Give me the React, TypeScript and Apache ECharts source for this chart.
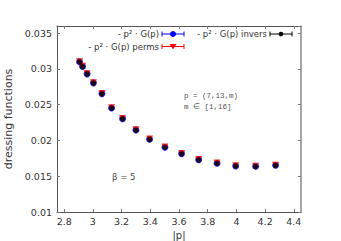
import React, { useEffect, useRef } from "react";
import * as echarts from "echarts";

const pAbs = [2.907, 2.928, 2.96, 3.004, 3.063, 3.13, 3.207, 3.3, 3.395, 3.502, 3.618, 3.737, 3.865, 3.995, 4.134, 4.273];
const gBlue = [0.03099, 0.03033, 0.02931, 0.02805, 0.02655, 0.02455, 0.02305, 0.02147, 0.02017, 0.01905, 0.01816, 0.01732, 0.01681, 0.01644, 0.01639, 0.01653];
const gPerms = [0.03102, 0.03036, 0.02933, 0.02808, 0.02657, 0.02459, 0.02306, 0.02151, 0.02019, 0.01907, 0.01818, 0.01734, 0.01684, 0.01646, 0.0164, 0.01655];
const gInvers = [0.03097, 0.03031, 0.02929, 0.02803, 0.02652, 0.02452, 0.02302, 0.02144, 0.02014, 0.01902, 0.01811, 0.0173, 0.01679, 0.01642, 0.01637, 0.01651];
const xTicks = [2.8, 3, 3.2, 3.4, 3.6, 3.8, 4, 4.2, 4.4];
const legendNames = ["- p² · G(p)", "- p² · G(p) perms", "- p² · G(p) invers"];
const seriesColors = ["#0000ff", "#ff0000", "#000000"];

export default function App() {
  const ref = useRef<HTMLDivElement>(null);
  useEffect(() => {
    const chart = echarts.init(ref.current!, undefined, { renderer: "svg" });
    const pts = (ys: number[]) => pAbs.map((x, i) => [x, ys[i]]);
    const axisCol = "#555";
    const legendItem = (label: string, tx: number, ty: number, color: string, marker: any) => [
      { type: "text", x: tx, y: ty, style: { text: label, align: "right", verticalAlign: "middle", fill: "#333", font: "8.5px 'DejaVu Sans'" } },
      { type: "line", shape: { x1: tx + 3, y1: ty, x2: tx + 25, y2: ty }, style: { stroke: color, lineWidth: 1 } },
      { type: "line", shape: { x1: tx + 3, y1: ty - 2.5, x2: tx + 3, y2: ty + 2.5 }, style: { stroke: color, lineWidth: 1 } },
      { type: "line", shape: { x1: tx + 25, y1: ty - 2.5, x2: tx + 25, y2: ty + 2.5 }, style: { stroke: color, lineWidth: 1 } },
      marker(tx + 14, ty, color),
    ];
    const circ = (r: number) => (x: number, y: number, c: string) => ({ type: "circle", shape: { cx: x, cy: y, r }, style: { fill: c } });
    const tri = (x: number, y: number, c: string) => ({ type: "polygon", shape: { points: [[x - 3.5, y - 2.5], [x + 3.5, y - 2.5], [x, y + 3]] }, style: { fill: c } });
    chart.setOption({
      animation: false,
      grid: { left: 57, right: 40, top: 26, bottom: 29, outerBoundsMode: "none", containLabel: false },
      xAxis: [
        {
          type: "value", min: 2.75, max: 4.45,
          name: "|p|", nameLocation: "middle", nameGap: 17,
          nameTextStyle: { fontFamily: "DejaVu Sans", fontSize: 10, color: "#333" },
          axisLine: { show: true, lineStyle: { color: axisCol } },
          axisTick: { show: true, inside: true, length: 3, customValues: xTicks, lineStyle: { color: "#777" } },
          axisLabel: { customValues: xTicks, fontFamily: "DejaVu Sans", fontSize: 9.5, color: "#333", margin: 4 },
          splitLine: { show: false },
        },
        {
          type: "value", min: 2.75, max: 4.45, position: "top",
          axisLine: { show: true, lineStyle: { color: axisCol } },
          axisTick: { show: true, inside: true, length: 3, customValues: xTicks, lineStyle: { color: "#777" } },
          axisLabel: { show: false },
          splitLine: { show: false },
        },
      ],
      yAxis: [
        {
          type: "value", min: 0.01, max: 0.036, interval: 0.005,
          name: "dressing functions", nameLocation: "middle", nameGap: 40,
          nameTextStyle: { fontFamily: "DejaVu Sans", fontSize: 11, color: "#333" },
          axisLine: { show: true, lineStyle: { color: axisCol } },
          axisTick: { show: true, inside: true, length: 3, lineStyle: { color: "#777" } },
          axisLabel: { fontFamily: "DejaVu Sans", fontSize: 9.5, color: "#333", margin: 5 },
          splitLine: { show: false },
        },
        {
          type: "value", min: 0.01, max: 0.036, interval: 0.005, position: "right",
          axisLine: { show: true, lineStyle: { color: "#888", width: 1.5 } },
          axisTick: { show: true, inside: true, length: 3, lineStyle: { color: "#777" } },
          axisLabel: { show: false },
          splitLine: { show: false },
        },
      ],
      series: [
        { name: legendNames[0], type: "scatter", data: pts(gBlue), symbol: "circle", symbolSize: 7, itemStyle: { color: seriesColors[0] } },
        { name: legendNames[1], type: "scatter", data: pts(gPerms), symbol: "triangle", symbolRotate: 180, symbolSize: 7, itemStyle: { color: seriesColors[1] } },
        { name: legendNames[2], type: "scatter", data: pts(gInvers), symbol: "circle", symbolSize: 5.5, itemStyle: { color: seriesColors[2] } },
      ],
      graphic: [
        ...legendItem(legendNames[0], 159, 34, seriesColors[0], circ(3)),
        ...legendItem(legendNames[2], 267, 34, seriesColors[2], circ(2.3)),
        ...legendItem(legendNames[1], 159, 46.5, seriesColors[1], tri),
        { type: "text", x: 184, y: 96, style: { text: "p = (7,13,m)", verticalAlign: "middle", fill: "#555", font: "7.5px 'Liberation Mono'" } },
        { type: "text", x: 184, y: 107, style: { text: "m ∈ [1,16]", verticalAlign: "middle", fill: "#555", font: "7.5px 'Liberation Mono'" } },
        { type: "text", x: 112, y: 177, style: { text: "β = 5", verticalAlign: "middle", fill: "#444", font: "8.5px 'DejaVu Sans'" } },
      ],
    });
    return () => chart.dispose();
  }, []);
  return <div ref={ref} style={{ width: 341, height: 241, position: "absolute", left: 0, top: 0 }} />;
}
